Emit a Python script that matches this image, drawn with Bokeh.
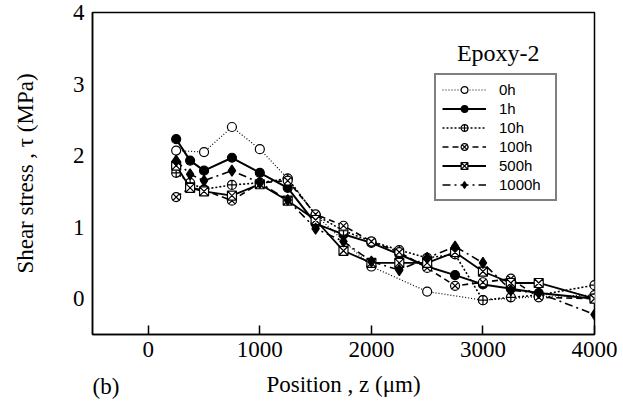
from bokeh.plotting import figure
from bokeh.models import Legend, LegendItem, FixedTicker, Label, Range1d, LinearAxis
from bokeh.embed import file_html
from bokeh.resources import INLINE

# ---- data ----
x_0h = [250, 500, 750, 1000, 1250, 1500, 2000, 2500, 3000, 3500, 4000]
y_0h = [2.07, 2.05, 2.40, 2.09, 1.68, 1.17, 0.45, 0.10, -0.02, 0.03, 0.05]

x_pos = [250, 375, 500, 750, 1000, 1250, 1500, 1750, 2000, 2250, 2500, 2750, 3000, 3250, 3500, 4000]
y_1h = [2.23, 1.93, 1.79, 1.97, 1.76, 1.55, 1.05, 0.90, 0.78, 0.62, 0.45, 0.33, 0.20, 0.14, 0.08, 0.00]
y_10h = [1.76, 1.62, 1.53, 1.59, 1.62, 1.68, 1.17, 0.95, 0.80, 0.68, 0.57, 0.62, -0.02, 0.02, 0.05, 0.19]
y_100h = [1.42, 1.55, 1.52, 1.37, 1.62, 1.65, 1.18, 1.02, 0.80, 0.65, 0.43, 0.18, 0.23, 0.28, 0.02, 0.00]
y_500h = [1.86, 1.55, 1.50, 1.44, 1.60, 1.37, 1.10, 0.67, 0.50, 0.50, 0.50, 0.65, 0.38, 0.22, 0.22, 0.00]
y_1000h = [1.93, 1.74, 1.65, 1.79, 1.62, 1.38, 0.98, 0.80, 0.52, 0.40, 0.57, 0.73, 0.50, 0.12, 0.08, -0.22]

labels = ["0h", "1h", "10h", "100h", "500h", "1000h"]
x_ticks = [0, 1000, 2000, 3000, 4000]
y_ticks = [0, 1, 2, 3, 4]

SERIF = "Liberation Serif"
SANS = "Liberation Sans"

p = figure(width=623, height=404, output_backend="svg", toolbar_location=None,
           x_range=Range1d(-500, 4000), y_range=Range1d(-0.5, 4),
           min_border_left=92, min_border_right=29, min_border_top=12, min_border_bottom=70)
p.xgrid.visible = False
p.ygrid.visible = False
p.outline_line_color = "black"
p.outline_line_width = 1.5
p.background_fill_color = "white"
p.border_fill_color = "white"

p.xaxis.ticker = FixedTicker(ticks=x_ticks)
p.yaxis.ticker = FixedTicker(ticks=y_ticks)
p.xaxis.minor_tick_line_color = None
p.yaxis.minor_tick_line_color = None
p.xaxis.major_tick_in = 9
p.xaxis.major_tick_out = 0
p.yaxis.major_tick_in = 0
p.yaxis.major_tick_out = 0
for ax in (p.xaxis, p.yaxis):
    ax.axis_line_color = "black"
    ax.axis_line_width = 1.5
    ax.major_tick_line_color = "black"
    ax.major_tick_line_width = 1.5
    ax.major_label_text_font = SERIF
    ax.major_label_text_font_size = "23px"
    ax.major_label_text_color = "black"
    ax.axis_label_text_font = SERIF
    ax.axis_label_text_font_size = "23px"
    ax.axis_label_text_font_style = "normal"
    ax.axis_label_text_color = "black"

p.xaxis.axis_label = "Position , z (\u03bcm)"
p.yaxis.axis_label = "Shear stress , \u03c4 (MPa)"
p.xaxis.major_label_standoff = 7
p.xaxis.axis_label_standoff = 12
p.yaxis.major_label_standoff = 8
p.yaxis.axis_label_standoff = 32

# panel tag "(b)": an extra bottom axis carrying one label, pulled up beside the axis title
tag_axis = LinearAxis(ticker=FixedTicker(ticks=[-380]), major_label_overrides={-380: "(b)"})
tag_axis.axis_line_color = None
tag_axis.major_tick_line_color = None
tag_axis.minor_tick_line_color = None
tag_axis.major_tick_in = 0
tag_axis.major_tick_out = 0
tag_axis.major_label_standoff = -26
tag_axis.major_label_text_font = SERIF
tag_axis.major_label_text_font_size = "23px"
tag_axis.major_label_text_color = "black"
p.add_layout(tag_axis, "below")

series = [
    (x_0h, y_0h, "circle", "white", "1 2", 1.2),
    (x_pos, y_1h, "circle", "black", "solid", 2.0),
    (x_pos, y_10h, "circle_cross", "white", "2 2", 1.6),
    (x_pos, y_100h, "circle_x", "white", "6 4", 1.6),
    (x_pos, y_500h, "square_x", "white", "solid", 1.8),
    (x_pos, y_1000h, "diamond", "black", "8 4 2 4", 1.6),
]

items = []
for (xs, ys, mk, fill, dash, lw), lab in zip(series, labels):
    lr = p.line(xs, ys, line_color="black", line_width=lw, line_dash=dash)
    sz = 11 if mk == "diamond" else 9
    sr = p.scatter(xs, ys, marker=mk, size=sz, fill_color=fill, line_color="black", line_width=1.2)
    items.append(LegendItem(label=lab, renderers=[lr, sr]))

legend = Legend(items=items, location=(342, 133))
legend.border_line_color = "black"
legend.border_line_width = 2
legend.background_fill_color = "white"
legend.background_fill_alpha = 1.0
legend.padding = 6
legend.margin = 0
legend.spacing = 2
legend.glyph_width = 44
legend.glyph_height = 17
legend.label_height = 17
legend.label_width = 50
legend.label_standoff = 13
legend.label_text_font = SANS
legend.label_text_font_size = "15px"
legend.label_text_color = "black"
p.add_layout(legend, "center")

p.add_layout(Label(x=3137, y=3.43, text="Epoxy-2", text_font=SERIF, text_font_size="24px",
                   text_align="center", text_baseline="middle", text_color="black"))

open("out.html", "w").write(file_html(p, INLINE))
